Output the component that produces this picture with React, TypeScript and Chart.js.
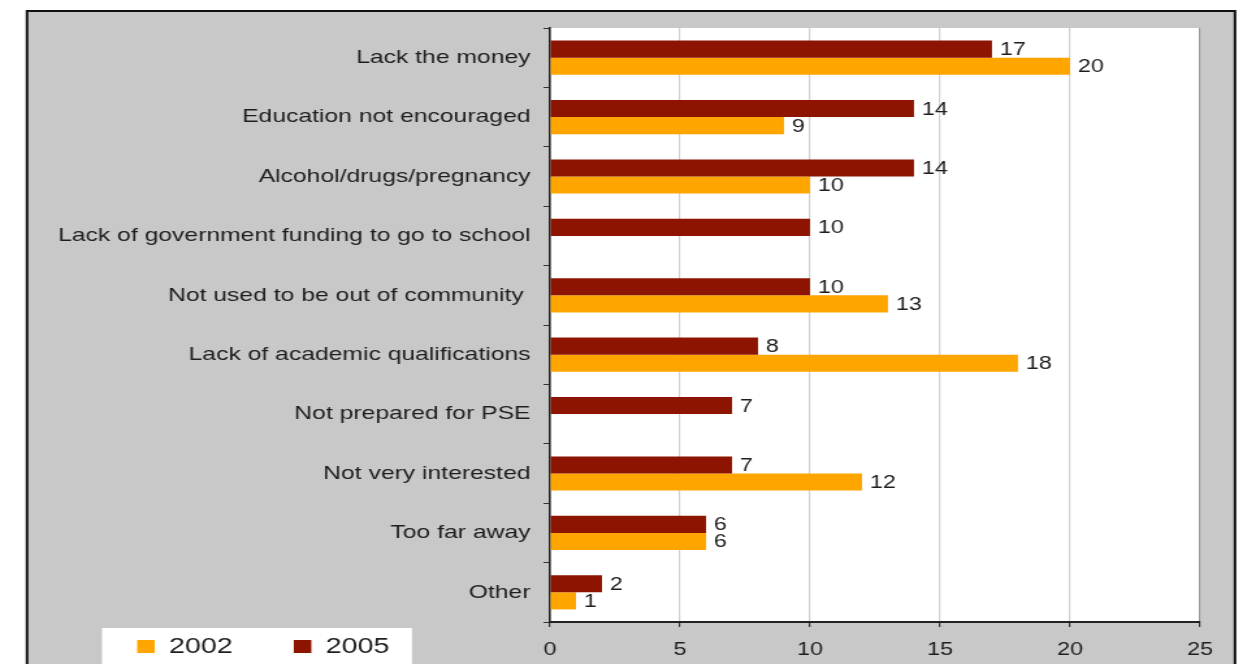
import React, { useEffect, useRef } from "react";
import { Chart, registerables } from "chart.js";

Chart.register(...registerables);

const categories = [
  "Lack the money",
  "Education not encouraged",
  "Alcohol/drugs/pregnancy",
  "Lack of government funding to go to school",
  "Not used to be out of community ",
  "Lack of academic qualifications",
  "Not prepared for PSE",
  "Not very interested",
  "Too far away",
  "Other",
];
const values2005 = [17, 14, 14, 10, 10, 8, 7, 7, 6, 2];
const values2002 = [20, 9, 10, null, 13, 18, null, 12, 6, 1];
const xTicks = [0, 5, 10, 15, 20, 25];
const seriesLabels = ["2005", "2002"];

// The picture is drawn on a narrower canvas and shown stretched horizontally,
// like the original (a horizontally stretched chart image).
const VIEW_W = 1243;
const VIEW_H = 664;
const CANVAS_W = 956;
const S = VIEW_W / CANVAS_W; // horizontal stretch factor
const hx = (v: number) => v / S; // display x -> canvas x

const FAMILY = "'Liberation Sans', Arial, sans-serif";
const RED = "#8c1400";
const ORANGE = "#ffa500";
const TEXT = "#1e1e1e";

const LEGEND_PAD = 47;
const LEGEND_BOX_X = 105.5;

const backgroundPlugin = {
  id: "bgPanel",
  beforeDraw(chart: any) {
    const ctx = chart.ctx;
    ctx.save();
    ctx.fillStyle = "#ffffff";
    ctx.fillRect(0, 0, chart.width, chart.height);
    ctx.fillStyle = "#c8c8c8";
    ctx.fillRect(hx(27), 11, hx(1235) - hx(27), 720);
    ctx.strokeStyle = "#111111";
    ctx.lineWidth = 2;
    ctx.strokeRect(hx(27), 11, hx(1235) - hx(27), 720);
    const a = chart.chartArea;
    ctx.fillStyle = "#ffffff";
    ctx.fillRect(a.left, a.top, a.right - a.left, a.bottom - a.top);
    ctx.fillRect(hx(102), 628, hx(412) - hx(102), 60);
    ctx.restore();
    const lg = chart.legend;
    if (lg) {
      lg.left = LEGEND_BOX_X - LEGEND_PAD;
      lg.right = chart.width;
      lg.width = lg.right - lg.left;
      lg.top = 635.5 - LEGEND_PAD;
      lg.bottom = chart.height;
      lg.height = lg.bottom - lg.top;
    }
  },
};

const valueLabelPlugin = {
  id: "valueLabels",
  afterDatasetsDraw(chart: any) {
    const ctx = chart.ctx;
    ctx.save();
    ctx.font = `18px ${FAMILY}`;
    ctx.fillStyle = TEXT;
    ctx.textAlign = "left";
    ctx.textBaseline = "middle";
    chart.data.datasets.forEach((ds: any, i: number) => {
      const meta = chart.getDatasetMeta(i);
      meta.data.forEach((el: any, j: number) => {
        const v = ds.data[j];
        if (v === null || v === undefined) return;
        ctx.fillText(String(v), el.x + 6, el.y + 1);
      });
    });
    ctx.restore();
  },
};

export default function App() {
  const canvasRef = useRef<HTMLCanvasElement | null>(null);

  useEffect(() => {
    document.body.style.margin = "0";
    if (!canvasRef.current) return;
    const chart = new Chart(canvasRef.current, {
      type: "bar",
      data: {
        labels: categories,
        datasets: [
          {
            label: seriesLabels[0],
            data: values2005,
            backgroundColor: RED,
            borderWidth: 0,
            barPercentage: 1,
            categoryPercentage: 0.575,
          },
          {
            label: seriesLabels[1],
            data: values2002 as any,
            backgroundColor: ORANGE,
            borderWidth: 0,
            barPercentage: 1,
            categoryPercentage: 0.575,
          },
        ],
      },
      options: {
        indexAxis: "y",
        animation: false,
        responsive: false,
        devicePixelRatio: 1,
        layout: {
          padding: { top: 28, right: CANVAS_W - hx(1200), bottom: 0, left: 0 },
        },
        plugins: {
          tooltip: { enabled: false },
          legend: {
            display: true,
            position: "bottom",
            align: "start",
            maxHeight: 1,
            labels: {
              boxWidth: 13.5,
              boxHeight: 13,
              padding: LEGEND_PAD,
              color: TEXT,
              font: { family: FAMILY, size: 22 },
              sort: (a: any, b: any) => b.datasetIndex - a.datasetIndex,
            },
          },
        },
        scales: {
          x: {
            type: "linear",
            min: 0,
            max: 25,
            afterBuildTicks: (scale: any) => {
              scale.ticks = xTicks.map((v) => ({ value: v }));
            },
            afterFit: (scale: any) => {
              scale.height = 41;
            },
            ticks: {
              color: TEXT,
              font: { family: FAMILY, size: 18 },
              padding: 12,
            },
            grid: {
              color: (c: any) => (c.tick && c.tick.value === 25 ? "#9a9a9a" : "#d0d0d0"),
              lineWidth: 1.2,
              tickColor: "#333333",
              tickLength: 5,
            },
            border: { color: "#222222", width: 2 },
          },
          y: {
            type: "category",
            afterFit: (scale: any) => {
              scale.width = hx(550);
            },
            ticks: {
              color: TEXT,
              font: { family: FAMILY, size: 19 },
              padding: 10,
              autoSkip: false,
            },
            grid: {
              offset: true,
              drawOnChartArea: false,
              drawTicks: true,
              tickLength: 5,
              color: "#333333",
            },
            border: { color: "#222222", width: 1.6 },
          },
        },
      },
      plugins: [backgroundPlugin, valueLabelPlugin],
    });
    return () => chart.destroy();
  }, []);

  return (
    <div style={{ position: "fixed", left: 0, top: 0, width: VIEW_W, height: VIEW_H, overflow: "hidden" }}>
      <canvas
        ref={canvasRef}
        width={CANVAS_W}
        height={VIEW_H}
        style={{ width: VIEW_W + "px", height: VIEW_H + "px", display: "block" }}
      />
    </div>
  );
}
